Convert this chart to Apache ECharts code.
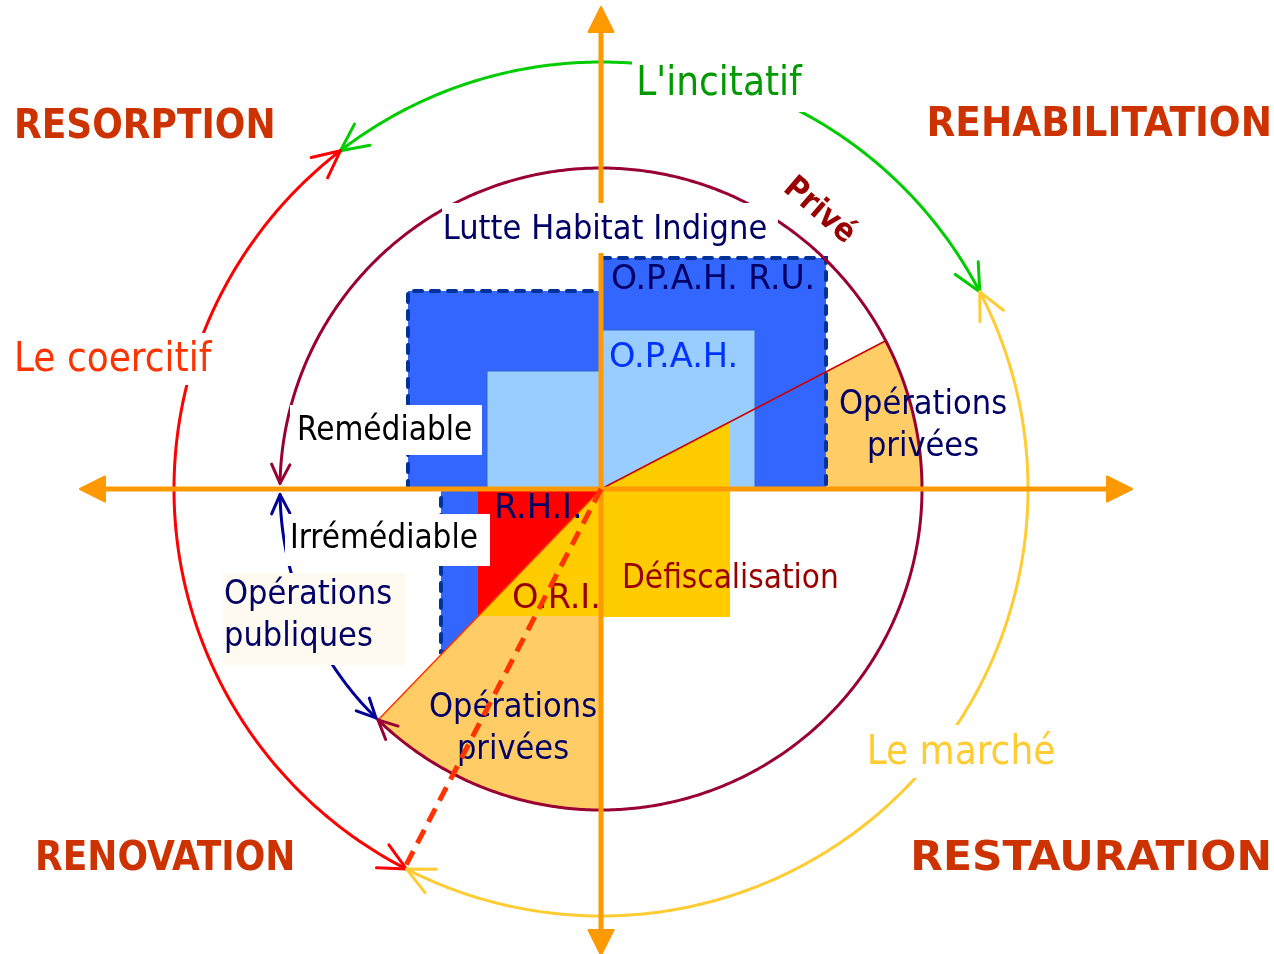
<!DOCTYPE html>
<html lang="fr">
<head>
<meta charset="utf-8">
<title>Lutte Habitat Indigne</title>
<script src="https://cdn.jsdelivr.net/npm/echarts/dist/echarts.min.js"></script>
<style>
html, body { margin: 0; padding: 0; background: #ffffff; }
#chart { width: 1274px; height: 954px; }
</style>
</head>
<body>
<div id="chart"></div>
<script>
// repere : origine au croisement des axes, x vers la droite, y vers le haut
var rayonCercle = 321;
var rayonExterieur = 427;

// secteurs "Operations privees" [debut, fin] en degres
var secteurDroit = [0, 27.5];
var secteurBas = [226, 270];

// zones
var zoneOpahRu = [[-193, 0], [-193, 198], [0, 198], [0, 231], [225, 231], [225, 0]];
var zoneIrremediable = [[-160, 0], [0, 0], [0, -163], [-160, -163]];
var zoneOpah = [
    [[-114, 0], [-114, 118], [0, 118], [0, 0]],
    [[0, 0], [0, 159], [154, 159], [154, 0]]
];
var zoneRhi = [[-123, 0], [0, 0], [-123, -127]];
var zoneOri = [[0, 0], [0, -127], [-123, -127]];
var zoneDefisc = [[0, 0], [129, 67], [129, -128], [0, -128]];

// rayons traces (degres)
var rayons = [27.5, 226];

// arcs fleches
var arcNoms = ['Privé', 'Public', "L'incitatif", 'Le coercitif', 'Le marché'];
var arcDebut = [179, 181, 27.5, 127.6, 27.5];
var arcFin = [-134, 225.5, 127.6, 242.9, -117.1];
var arcRayon = [321, 321, 427, 427, 427];

// trajet pointille (angle)
var trajetAngle = 242.6;

// axes
var axeHorizontal = [-521, 531];
var axeVertical = [-466, 482];

// cadres des etiquettes [x0, y0, x1, y1]
var cadres = [
    [-159, 286, 177, 236],
    [31, 434, 205, 377],
    [-591, 156, -386, 104],
    [261, -236, 459, -289],
    [-311, 84, -119, 34],
    [-316, -25, -111, -77],
    [-378, -84, -196, -176]
];

// textes
var textes = [
    'RESORPTION', 'REHABILITATION', 'RENOVATION', 'RESTAURATION',
    "L'incitatif", 'Le coercitif', 'Le marché',
    'Lutte Habitat Indigne', 'Privé',
    'O.P.A.H. R.U.', 'O.P.A.H.', 'Opérations\nprivées',
    'Remédiable', 'Irrémédiable', 'R.H.I.', 'O.R.I.', 'Défiscalisation',
    'Opérations\npubliques', 'Opérations\nprivées'
];
var textesPos = [
    [-587, 361], [671, 363], [-566, -371], [671, -371],
    [118, 404], [-587, 128], [360, -265],
    [4, 259], [218, 278],
    [10, 209], [8, 131], [322, 63],
    [-304, 58], [-311, -50], [-107, -20], [-89, -110], [21, -90],
    [-377, -127], [-88, -240]
];

var police = '"DejaVu Sans Condensed", "DejaVu Sans", sans-serif';
// [couleur, taille, gras, alignement, rotation, etirement]
var styleTextes = [
    ['#CC3300', 40, 1, 'left', 0, 1], ['#CC3300', 40, 1, 'right', 0, 1.04],
    ['#CC3300', 40, 1, 'left', 0, 1], ['#CC3300', 40, 1, 'right', 0, 1.18],
    ['#009900', 40, 0, 'center', 0, 1], ['#FF3300', 40, 0, 'left', 0, 1], ['#FFCC33', 40, 0, 'center', 0, 1],
    ['#000066', 34, 0, 'center', 0, 1], ['#990000', 32, 1, 'center', -0.71, 1],
    ['#000066', 34, 0, 'left', 0, 1.08], ['#0033FF', 34, 0, 'left', 0, 1.1], ['#000066', 34, 0, 'center', 0, 1],
    ['#000000', 33, 0, 'left', 0, 1], ['#000000', 33, 0, 'left', 0, 1], ['#000066', 34, 0, 'left', 0, 1.1],
    ['#990000', 34, 0, 'left', 0, 1.1], ['#990000', 33, 0, 'left', 0, 1],
    ['#000066', 34, 0, 'left', 0, 1], ['#000066', 34, 0, 'center', 0, 1]
];
var couleursArcs = ['#990033', '#000099', '#00CC00', '#FF0000', '#FFCC33'];
var fondsCadres = ['#ffffff', '#ffffff', '#ffffff', '#ffffff', '#ffffff', '#ffffff', '#FFFAF0'];

var chart = echarts.init(document.getElementById('chart'));

function polaire(r, deg) {
    var a = deg * Math.PI / 180;
    return [r * Math.cos(a), r * Math.sin(a)];
}
function enPixels(api, pts) {
    return pts.map(function (p) { return api.coord(p); });
}
function arcPixels(api, r, a0, a1) {
    var n = Math.ceil(Math.abs(a1 - a0) * 2) + 1, pts = [];
    for (var i = 0; i <= n; i++) pts.push(api.coord(polaire(r, a0 + (a1 - a0) * i / n)));
    return pts;
}
function pointe(api, r, aBout, sens, long) {
    var recul = sens * (long * 0.6 / r) * 180 / Math.PI;
    var tip = api.coord(polaire(r, aBout)), prev = api.coord(polaire(r, aBout - recul));
    var ang = Math.atan2(tip[1] - prev[1], tip[0] - prev[0]), e = 0.45;
    return [
        [tip[0] - long * Math.cos(ang - e), tip[1] - long * Math.sin(ang - e)],
        tip,
        [tip[0] - long * Math.cos(ang + e), tip[1] - long * Math.sin(ang + e)]
    ];
}

var rang = 0;
function serie(nom, liste, rendu) {
    rang++;
    return {
        type: 'custom', name: nom, coordinateSystem: 'cartesian2d',
        silent: true, clip: false, animation: false, z: rang,
        data: liste.map(function (d, i) { return [i, 0]; }),
        renderItem: rendu
    };
}
function polygones(liste, style) {
    return function (params, api) {
        return { type: 'polygon', shape: { points: enPixels(api, liste[params.dataIndex]) }, style: style };
    };
}
function secteur(s, style) {
    return function (params, api) {
        var pts = [api.coord([0, 0])].concat(arcPixels(api, rayonCercle, s[0], s[1]));
        return { type: 'polygon', shape: { points: pts }, style: style };
    };
}

var series = [
    serie('secteur droit', [secteurDroit], secteur(secteurDroit, { fill: '#FFCC66' })),
    serie('O.P.A.H. R.U.', [zoneOpahRu, zoneIrremediable], polygones([zoneOpahRu, zoneIrremediable],
        { fill: '#3366FF', stroke: '#003399', lineWidth: 4, lineDash: [8, 9], lineCap: 'round' })),
    serie('secteur bas', [secteurBas], secteur(secteurBas, { fill: '#FFCC66' })),
    serie('O.P.A.H.', zoneOpah, polygones(zoneOpah, { fill: '#99CCFF', stroke: '#3366CC', lineWidth: 1 })),
    serie('R.H.I.', [zoneRhi], polygones([zoneRhi], { fill: '#FF0000' })),
    serie('O.R.I.', [zoneOri], polygones([zoneOri], { fill: '#FFCC00' })),
    serie('Défiscalisation', [zoneDefisc], polygones([zoneDefisc], { fill: '#FFCC00' })),
    serie('rayons', rayons, function (params, api) {
        var a = rayons[params.dataIndex];
        var p0 = api.coord([0, 0]), p1 = api.coord(polaire(rayonCercle, a));
        return { type: 'line', shape: { x1: p0[0], y1: p0[1], x2: p1[0], y2: p1[1] },
            style: { stroke: params.dataIndex === 0 ? '#CC0000' : '#FF3300', lineWidth: 1.5 } };
    }),
    serie('arcs', arcNoms, function (params, api) {
        var i = params.dataIndex, r = arcRayon[i], a0 = arcDebut[i], a1 = arcFin[i];
        var sens = a1 > a0 ? 1 : -1;
        var long = r > 400 ? 30 : 21;
        var st = { stroke: couleursArcs[i], lineWidth: 3, fill: null, lineCap: 'round', lineJoin: 'round' };
        return { type: 'group', children: [
            { type: 'polyline', shape: { points: arcPixels(api, r, a0, a1) }, style: st },
            { type: 'polyline', shape: { points: pointe(api, r, a1, sens, long) }, style: st },
            { type: 'polyline', shape: { points: pointe(api, r, a0, -sens, long) }, style: st }
        ] };
    }),
    serie('axes', [axeHorizontal, axeVertical], function (params, api) {
        var horiz = params.dataIndex === 0;
        var lim = horiz ? axeHorizontal : axeVertical;
        var a = api.coord(horiz ? [lim[0], 0] : [0, lim[0]]);
        var b = api.coord(horiz ? [lim[1], 0] : [0, lim[1]]);
        var L = 25, W = 12.5, kids = [];
        var ux = (b[0] - a[0]), uy = (b[1] - a[1]);
        var n = Math.sqrt(ux * ux + uy * uy); ux /= n; uy /= n;
        kids.push({ type: 'line', shape: { x1: a[0] + ux * L, y1: a[1] + uy * L, x2: b[0] - ux * L, y2: b[1] - uy * L },
            style: { stroke: '#FF9900', lineWidth: 5 } });
        [[a, -1], [b, 1]].forEach(function (t) {
            var p = t[0], s = t[1];
            var bx = p[0] - s * ux * L, by = p[1] - s * uy * L;
            kids.push({ type: 'polygon', shape: { points: [p, [bx - uy * W, by + ux * W], [bx + uy * W, by - ux * W]] },
                style: { fill: '#FF9900', stroke: '#FF9900', lineWidth: 2, lineJoin: 'round' } });
        });
        return { type: 'group', children: kids };
    }),
    serie('cadres', cadres, function (params, api) {
        var c = cadres[params.dataIndex];
        var p0 = api.coord([c[0], c[1]]), p1 = api.coord([c[2], c[3]]);
        return { type: 'rect', shape: { x: p0[0], y: p0[1], width: p1[0] - p0[0], height: p1[1] - p0[1] },
            style: { fill: fondsCadres[params.dataIndex] } };
    }),
    serie('textes', textes, function (params, api) {
        var i = params.dataIndex, s = styleTextes[i], p = api.coord(textesPos[i]);
        return { type: 'text', x: p[0], y: p[1], rotation: s[4], scaleX: s[5],
            style: { text: textes[i], fill: s[0], font: (s[2] ? 'bold ' : '') + s[1] + 'px ' + police,
                align: s[3], verticalAlign: 'middle', lineHeight: 42 } };
    }),
    serie('trajet', [trajetAngle], function (params, api) {
        var p0 = api.coord([0, 0]), p1 = api.coord(polaire(rayonExterieur, trajetAngle));
        return { type: 'line', shape: { x1: p0[0], y1: p0[1], x2: p1[0], y2: p1[1] },
            style: { stroke: '#FF3300', lineWidth: 5, lineDash: [15, 9] } };
    })
];

chart.setOption({
    animation: false,
    grid: { left: 0, right: 0, top: 0, bottom: 0 },
    xAxis: { type: 'value', min: -601, max: 673, show: false },
    yAxis: { type: 'value', min: -465, max: 489, show: false },
    series: series
});
</script>
</body>
</html>
